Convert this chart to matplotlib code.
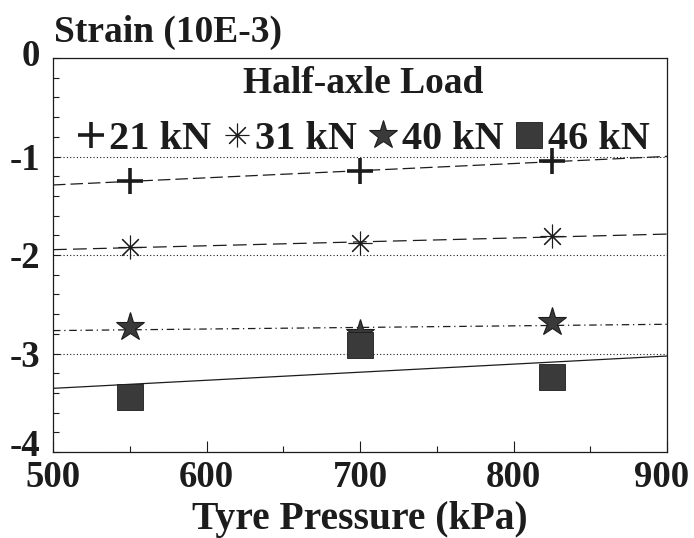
import numpy as np
import matplotlib
matplotlib.use("Agg")
import matplotlib.pyplot as plt
import matplotlib.transforms as mtransforms
from matplotlib.ticker import MultipleLocator
from matplotlib.lines import Line2D

plt.rcParams['font.family'] = ['Liberation Serif', 'DejaVu Serif']
plt.rcParams['font.weight'] = 'bold'
plt.rcParams['axes.unicode_minus'] = False

# ---- data ----
pressure = [550, 700, 825]
s21 = [-1.25, -1.15, -1.05]
s31 = [-1.92, -1.88, -1.81]
s40 = [-2.73, -2.80, -2.68]
s46 = [-3.44, -2.91, -3.24]
labels = ["21 kN", "31 kN", "40 kN", "46 kN"]
xticks = [500, 600, 700, 800, 900]
yticks = [0, -1, -2, -3, -4]

ink = '#1c1c1c'
fig = plt.figure(figsize=(6.94, 5.38), dpi=100)
ax = fig.add_axes([53/694, 1-452/538, (667-53)/694, (452-58)/538])

series = [s21, s31, s40, s46]
markers = ['+', (8, 2, 0), '*', 's']
msizes = [19, 17, 21, 19]
mews = [2.6, 0.8, 0.8, 0.6]
lstyles = [(0, (10, 4)), (0, (11, 5)), (0, (6, 3, 1, 3)), '-']

xfit = np.array([500, 900])
handles = []
for ys, ls in zip(series, lstyles):
    k, b = np.polyfit(pressure, ys, 1)
    ax.plot(xfit, k*xfit + b, ls=ls, color=ink, lw=0.9, zorder=2)
for ys, m, ms, mew in zip(series, markers, msizes, mews):
    ax.plot(pressure, ys, ls='none', marker=m, ms=ms, mew=mew,
            color=ink, mfc='#3a3a3a', mec=ink, zorder=3)
    handles.append(Line2D([], [], ls='none', marker=m, ms=ms, mew=mew,
                          color=ink, mfc='#3a3a3a', mec=ink))

ax.set_xlim(500, 900)
ax.set_ylim(-4, 0)
ax.set_xticks(xticks)
ax.set_xticklabels([str(v) for v in xticks])
ax.set_yticks(yticks)
ax.set_yticklabels([str(v) for v in yticks])
ax.xaxis.set_minor_locator(MultipleLocator(50))
ax.yaxis.set_minor_locator(MultipleLocator(0.2))
ax.tick_params(axis='both', which='both', direction='in', colors=ink,
               labelsize=26.5, top=False, right=False)
ax.tick_params(axis='x', which='major', length=8, width=0.8, pad=6)
ax.tick_params(axis='x', which='minor', length=4, width=0.8)
ax.tick_params(axis='y', which='major', length=5, width=0.8, pad=9)
ax.tick_params(axis='y', which='minor', length=4, width=0.8)
for lab in ax.get_xticklabels() + ax.get_yticklabels():
    lab.set_fontweight('bold')
for sp in ax.spines.values():
    sp.set_linewidth(0.9)
    sp.set_color(ink)

# nudge end labels as in the reference
ylabs = ax.get_yticklabels()
up0 = mtransforms.ScaledTranslation(0, 5/100, fig.dpi_scale_trans)
up4 = mtransforms.ScaledTranslation(0, 9/100, fig.dpi_scale_trans)
ylabs[0].set_transform(ylabs[0].get_transform() + up0)
ylabs[-1].set_transform(ylabs[-1].get_transform() + up4)
xlabs = ax.get_xticklabels()
left900 = mtransforms.ScaledTranslation(-5/100, 0, fig.dpi_scale_trans)
xlabs[-1].set_transform(xlabs[-1].get_transform() + left900)

ax.yaxis.grid(True, which='major', linestyle=(0, (1, 2)), color=ink, lw=0.8)
ax.set_axisbelow(True)

ax.set_xlabel("Tyre Pressure (kPa)", fontsize=28.5, fontweight='bold',
              color=ink, labelpad=4)
fig.text(54/694, 1-42/538, "Strain (10E-3)", fontsize=27, fontweight='bold',
         color=ink, ha='left', va='baseline')

leg = ax.legend(handles, labels, ncol=4, loc='upper center',
                bbox_to_anchor=(0.505, 1.0), frameon=False,
                title="Half-axle Load",
                prop={'size': 29, 'weight': 'bold'},
                title_fontproperties={'size': 27, 'weight': 'bold'},
                handlelength=0.7, handletextpad=0.1, columnspacing=0.3,
                borderaxespad=0.0, borderpad=0.2)
for t in leg.get_texts():
    t.set_color(ink)
leg.get_title().set_color(ink)

fig.savefig("out.png", dpi=100, facecolor='white')
